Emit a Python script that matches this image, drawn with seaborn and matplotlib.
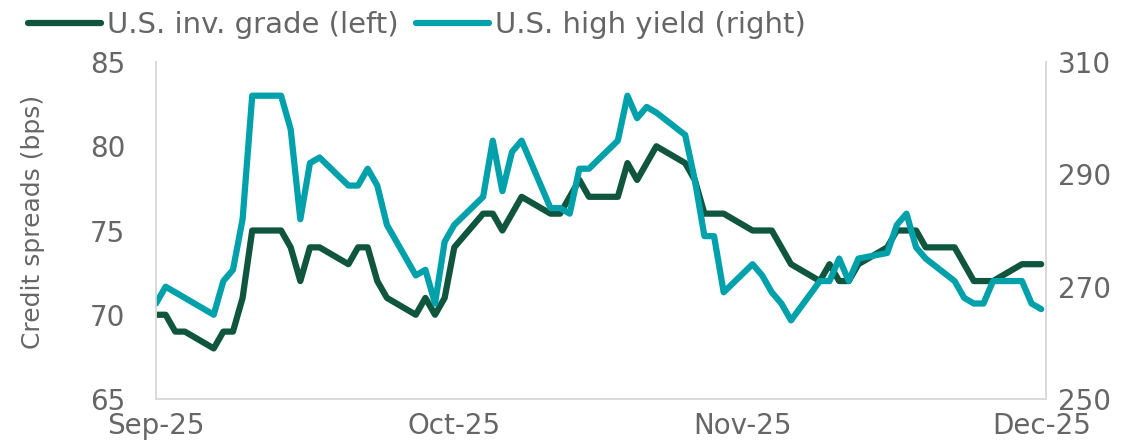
import pandas as pd
import seaborn as sns
import matplotlib.pyplot as plt

# ---- data (bps) ----
dates = (
    ["2025-09-%02d" % d for d in [2, 3, 4, 5, 8, 9, 10, 11, 12, 15, 16, 17, 18, 19, 22, 23, 24, 25, 26, 29, 30]]
    + ["2025-10-%02d" % d for d in [1, 2, 3, 6, 7, 8, 9, 10, 13, 14, 15, 16, 17, 20, 21, 22, 23, 24, 27, 28, 29, 30, 31]]
    + ["2025-11-%02d" % d for d in [3, 4, 5, 6, 7, 10, 11, 12, 13, 14, 17, 18, 19, 20, 21, 24, 25, 26, 27, 28]]
    + ["2025-12-%02d" % d for d in [1, 2, 3]]
)

inv_grade = [70, 70, 69, 69, 68, 69, 69, 71, 75, 75, 74, 72, 74, 74, 73, 74, 74, 72, 71, 70, 71,
             70, 71, 74, 76, 76, 75, 76, 77, 76, 76, 77, 78, 77, 77, 79, 78, 79, 80, 79, 78, 76, 76, 76,
             75, 75, 75, 74, 73, 72, 73, 72, 72, 73, 74, 75, 75, 75, 74, 74, 73, 72, 72, 72,
             73, 73, 73]

high_yield = [267, 270, 269, 268, 265, 271, 273, 282, 304, 304, 298, 282, 292, 293, 288, 288, 291, 288, 281, 272, 273,
              267, 278, 281, 286, 296, 287, 294, 296, 284, 284, 283, 291, 291, 296, 304, 300, 302, 301, 297, 289, 279, 279, 269,
              274, 272, 269, 267, 264, 271, 271, 275, 271, 275, 276, 281, 283, 277, 275, 271, 268, 267, 267, 271,
              271, 267, 266]

tick_dates = ["2025-09-02", "2025-10-03", "2025-11-02", "2025-12-03"]
tick_labels = ["Sep-25", "Oct-25", "Nov-25", "Dec-25"]

df = pd.DataFrame({"date": pd.to_datetime(dates), "ig": inv_grade, "hy": high_yield})

GREEN = "#10563F"
TEAL = "#00A1AB"
GREY_TXT = "#666666"
SPINE = "#D9D9D9"

sns.set_style("white")
plt.rcParams["font.family"] = ["DejaVu Sans"]

fig = plt.figure(figsize=(11.37, 4.45), dpi=100)
ax = fig.add_axes([156 / 1137, 1 - 399 / 445, 890 / 1137, 337 / 445])
ax2 = ax.twinx()

line_kw = dict(linewidth=4.5, solid_joinstyle="round", solid_capstyle="round")
sns.lineplot(data=df, x="date", y="ig", ax=ax, color=GREEN, legend=False, **line_kw)
sns.lineplot(data=df, x="date", y="hy", ax=ax2, color=TEAL, legend=False, **line_kw)

# axes limits / ticks
ax.set_xlim(pd.Timestamp("2025-09-02"), pd.Timestamp("2025-12-03 12:00"))
ax.set_ylim(65, 85)
ax.set_yticks([65, 70, 75, 80, 85])
ax2.set_ylim(250, 310)
ax2.set_yticks([250, 270, 290, 310])
ax.set_xticks(pd.to_datetime(tick_dates))
ax.set_xticklabels(tick_labels)

ax.tick_params(axis="y", length=0, pad=22, labelsize=20, labelcolor=GREY_TXT)
ax.tick_params(axis="x", length=0, pad=9, labelsize=20, labelcolor=GREY_TXT)
ax2.tick_params(axis="y", length=0, pad=8.5, labelsize=20, labelcolor=GREY_TXT)

ax.set_xlabel("")
ax2.set_ylabel("")
ax.set_ylabel("Credit spreads (bps)", fontsize=18, color=GREY_TXT)
ax.yaxis.set_label_coords(-0.125, 0.525)

for a in (ax, ax2):
    a.grid(False)
    a.spines["top"].set_visible(False)
    for s in ("left", "right", "bottom"):
        a.spines[s].set_color(SPINE)
        a.spines[s].set_linewidth(1.2)

# legend across the top
handles = [ax.get_lines()[0], ax2.get_lines()[0]]
labels = ["U.S. inv. grade (left)", "U.S. high yield (right)"]
fig.legend(handles, labels, loc="center left", bbox_to_anchor=(28 / 1137, 1 - 25 / 445),
           ncol=2, frameon=False, fontsize=21, labelcolor=GREY_TXT, borderpad=0, borderaxespad=0,
           handlelength=2.5, handletextpad=0.2, columnspacing=0.6)

plt.savefig("out.png", dpi=100)
